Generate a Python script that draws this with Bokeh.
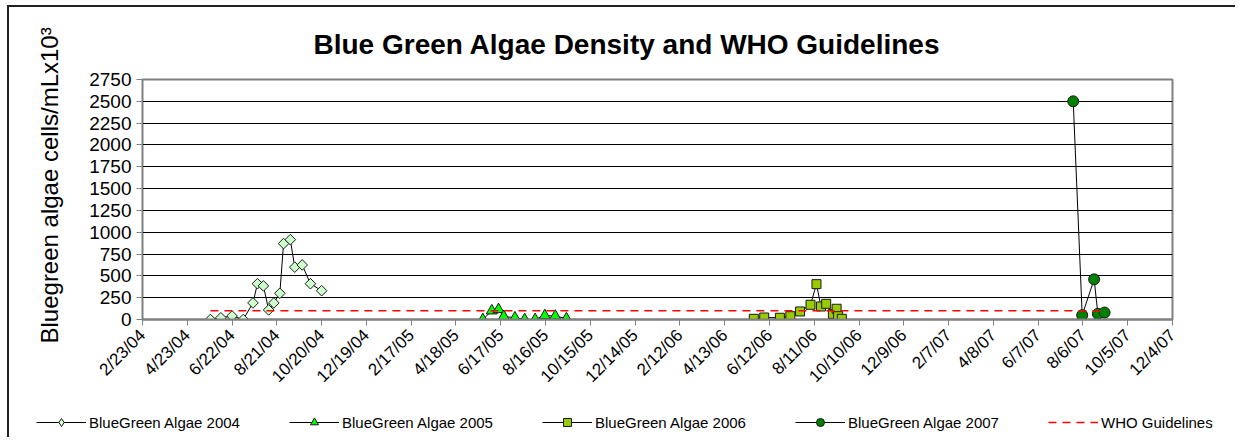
import pandas as pd
from math import pi
from bokeh.plotting import figure
from bokeh.models import Range1d, FixedTicker, Legend, LegendItem, ColumnDataSource, Title
from bokeh.layouts import column
from bokeh.embed import file_html
from bokeh.resources import INLINE

START = "2004-02-23"
tick_labels = ["2/23/04", "4/23/04", "6/22/04", "8/21/04", "10/20/04", "12/19/04",
               "2/17/05", "4/18/05", "6/17/05", "8/16/05", "10/15/05", "12/14/05",
               "2/12/06", "4/13/06", "6/12/06", "8/11/06", "10/10/06", "12/9/06",
               "2/7/07", "4/8/07", "6/7/07", "8/6/07", "10/5/07", "12/4/07"]
y_ticks = [0, 250, 500, 750, 1000, 1250, 1500, 1750, 2000, 2250, 2500, 2750]

dates_2004 = ["2004-05-24", "2004-06-07", "2004-06-22", "2004-07-07", "2004-07-20",
              "2004-07-26", "2004-08-03", "2004-08-10", "2004-08-17", "2004-08-25",
              "2004-08-30", "2004-09-08", "2004-09-14", "2004-09-24", "2004-10-05",
              "2004-10-20"]
algae_2004 = [0, 20, 40, 0, 190, 410, 385, 110, 190, 300, 870, 915, 600, 625, 410, 330]

dates_2005 = ["2005-05-24", "2005-06-05", "2005-06-14", "2005-06-21", "2005-07-06",
              "2005-07-19", "2005-08-02", "2005-08-15", "2005-08-29", "2005-09-13"]
algae_2005 = [0, 100, 115, 35, 20, 0, 0, 45, 40, 10]

dates_2006 = ["2006-05-22", "2006-06-05", "2006-06-26", "2006-07-10", "2006-07-23",
              "2006-08-06", "2006-08-14", "2006-08-20", "2006-08-27", "2006-09-05",
              "2006-09-10", "2006-09-12", "2006-09-17"]
algae_2006 = [8, 23, 20, 38, 92, 169, 405, 149, 180, 65, 123, 38, 8]

dates_2007 = ["2007-07-24", "2007-08-05", "2007-08-21", "2007-08-26", "2007-09-04"]
algae_2007 = [2500, 50, 460, 65, 80]

who_dates = ["2004-05-24", "2007-09-04"]
who_values = [100, 100]

FONT = "Liberation Sans"


def days(ds):
    return list((pd.to_datetime(ds) - pd.Timestamp(START)).days)


x_max = 60 * (len(tick_labels) - 1)
p = figure(width=1226, height=400, x_range=Range1d(0, x_max), y_range=Range1d(0, 2750),
           output_backend="svg", toolbar_location=None, tools="",
           min_border_left=130, min_border_right=63, min_border_top=72, min_border_bottom=88)
p.frame_align = False

p.title.text = "Blue Green Algae Density and WHO Guidelines"
p.title.align = "left"
p.title.offset = 171
p.title.standoff = 39
p.title.text_font = FONT
p.title.text_font_size = "28px"
p.title.text_font_style = "bold"
p.title.text_color = "black"

p.add_layout(Title(text="Bluegreen algae cells/mLx10\u00b3", align="left", offset=-24,
                   standoff=48, text_font=FONT, text_font_size="24px",
                   text_font_style="normal", text_color="black"), "left")

p.outline_line_color = "#808080"
p.outline_line_width = 2
p.xgrid.visible = False
p.ygrid.grid_line_color = "black"
p.ygrid.grid_line_width = 1
p.ygrid.ticker = FixedTicker(ticks=y_ticks)

p.xaxis.ticker = FixedTicker(ticks=[60 * i for i in range(len(tick_labels))])
p.xaxis.major_label_overrides = {60 * i: lab for i, lab in enumerate(tick_labels)}
p.xaxis.major_label_orientation = pi / 4
p.xaxis.major_label_standoff = 7
p.xaxis.major_label_text_font = FONT
p.xaxis.major_label_text_font_size = "17px"
p.xaxis.major_label_text_color = "black"
p.xaxis.axis_line_color = "#808080"
p.xaxis.axis_line_width = 2
p.xaxis.major_tick_line_color = "#808080"
p.xaxis.major_tick_out = 6
p.xaxis.major_tick_in = 0
p.xaxis.minor_tick_line_color = None

p.yaxis.ticker = FixedTicker(ticks=y_ticks)
p.yaxis.major_label_text_font = FONT
p.yaxis.major_label_text_font_size = "19px"
p.yaxis.major_label_text_color = "black"
p.yaxis.axis_line_color = "#808080"
p.yaxis.major_tick_line_color = "#808080"
p.yaxis.major_tick_out = 6
p.yaxis.major_tick_in = 0
p.yaxis.minor_tick_line_color = None

# Legend lives in a strip figure below; it reuses the same data sources (kept out of view there)
leg = figure(width=1226, height=30, x_range=Range1d(-20, -10), y_range=Range1d(-20, -10),
             output_backend="svg", toolbar_location=None, tools="",
             x_axis_location=None, y_axis_location=None,
             min_border_left=0, min_border_right=0, min_border_top=0, min_border_bottom=0)
leg.frame_align = False
leg.title.visible = False
leg.outline_line_color = None
leg.grid.visible = False

series = [
    ("BlueGreen Algae 2004", dates_2004, algae_2004,
     dict(marker="square", angle=pi / 4, size=7.5, fill_color="#CCFFCC"), "diamond"),
    ("BlueGreen Algae 2005", dates_2005, algae_2005,
     dict(marker="triangle", size=11, fill_color="#00FF00"), "triangle"),
    ("BlueGreen Algae 2006", dates_2006, algae_2006,
     dict(marker="square", size=9, fill_color="#99CC00"), "square"),
    ("BlueGreen Algae 2007", dates_2007, algae_2007,
     dict(marker="circle", size=11, fill_color="#008000"), "circle"),
]

items = []
for name, ds, vals, mk, leg_marker in series:
    src = ColumnDataSource(dict(x=days(ds), y=vals))
    p.line("x", "y", source=src, line_color="black", line_width=1)
    p.scatter("x", "y", source=src, line_color="#1a1a1a", line_width=1, **mk)
    lr = leg.line("x", "y", source=src, line_color="black", line_width=1)
    sr = leg.scatter("x", "y", source=src, marker=leg_marker, fill_color=mk["fill_color"],
                     line_color="#1a1a1a", line_width=1)
    items.append(LegendItem(label=name, renderers=[lr, sr]))

who_src = ColumnDataSource(dict(x=days(who_dates), y=who_values))
wdash = dict(line_color="#FF0000", line_width=1.5, line_dash="8 6")
p.line("x", "y", source=who_src, **wdash)
wr = leg.line("x", "y", source=who_src, **wdash)
items.append(LegendItem(label="WHO Guidelines", renderers=[wr]))

legend = Legend(items=items, orientation="horizontal", location=(27, 5),
                glyph_width=50, glyph_height=20, label_height=20, label_standoff=3,
                label_width=180, spacing=20, padding=0, margin=0,
                border_line_alpha=0, background_fill_alpha=0,
                label_text_font=FONT, label_text_font_size="15px", label_text_color="black")
leg.add_layout(legend)

layout = column(p, leg, spacing=0,
                styles={"border-left": "2px solid #222", "border-top": "2px solid #222",
                        "margin-left": "7px", "margin-top": "5px"})

# bokeh prepends "{% extends base %}" to string templates; only override a block
page_template = """{% block preamble %}<style>html, body { overflow: hidden; }</style>{% endblock %}"""
open("out.html", "w").write(file_html(layout, INLINE, template=page_template))
